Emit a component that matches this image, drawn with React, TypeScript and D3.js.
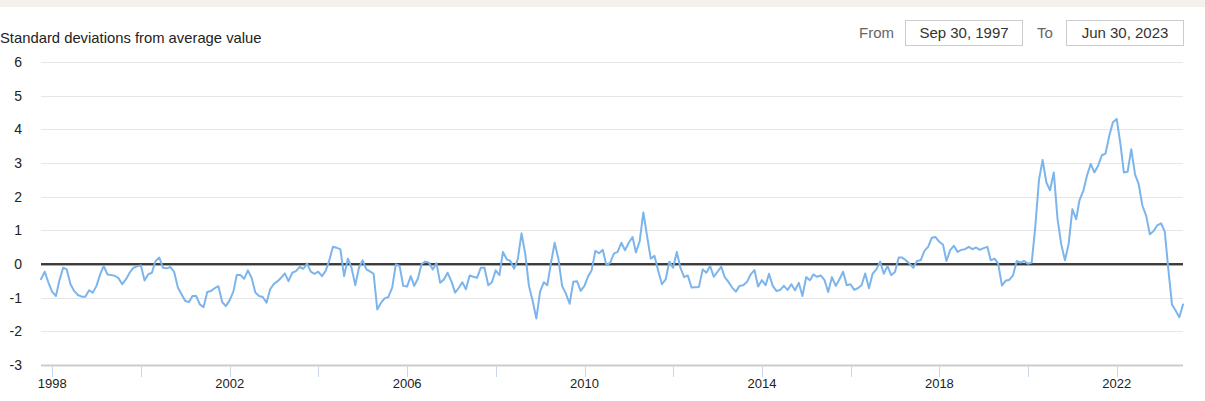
import React, { useEffect, useRef } from "react";
import * as d3 from "d3";

// monthly readings, first value is Sep 1997
const startYear = 1997;
const startMonth = 8;

const values = [
  // 1997 (Sep-Dec)
  -0.45, -0.23, -0.55, -0.83,
  // 1998
  -0.95, -0.5, -0.11, -0.16, -0.6, -0.8, -0.92, -0.97, -0.97, -0.78, -0.85, -0.65,
  // 1999
  -0.3, -0.06, -0.31, -0.33, -0.35, -0.42, -0.6, -0.45, -0.26, -0.11, -0.07, -0.04,
  // 2000
  -0.49, -0.31, -0.26, 0.09, 0.19, -0.11, -0.13, -0.09, -0.23, -0.7, -0.9, -1.1,
  // 2001
  -1.13, -0.95, -0.95, -1.2, -1.28, -0.83, -0.8, -0.72, -0.66, -1.13, -1.25, -1.08,
  // 2002
  -0.82, -0.33, -0.33, -0.44, -0.19, -0.41, -0.85, -0.95, -0.98, -1.15, -0.75, -0.59,
  // 2003
  -0.51, -0.41, -0.28, -0.51, -0.26, -0.21, -0.09, -0.14, 0.01, -0.23, -0.29, -0.23,
  // 2004
  -0.36, -0.21, 0.11, 0.51, 0.48, 0.44, -0.36, 0.16, -0.11, -0.63, -0.11, 0.11,
  // 2005
  -0.16, -0.22, -0.29, -1.35, -1.15, -1.02, -0.98, -0.7, -0.01, -0.06, -0.65, -0.67,
  // 2006
  -0.36, -0.65, -0.43, 0.0, 0.07, 0.04, -0.16, 0.02, -0.56, -0.46, -0.26, -0.51,
  // 2007
  -0.85, -0.72, -0.54, -0.75, -0.34, -0.38, -0.41, -0.11, -0.11, -0.63, -0.54, -0.19,
  // 2008
  -0.33, 0.36, 0.14, 0.09, -0.14, 0.14, 0.91, 0.29, -0.65, -1.1, -1.62, -0.82,
  // 2009
  -0.54, -0.63, 0.04, 0.63, 0.14, -0.65, -0.88, -1.18, -0.53, -0.51, -0.8, -0.65,
  // 2010
  -0.36, -0.19, 0.39, 0.32, 0.42, -0.04, 0.04, 0.31, 0.36, 0.63, 0.41, 0.63,
  // 2011
  0.8, 0.34, 0.68, 1.53, 0.83, 0.16, 0.24, -0.21, -0.6, -0.46, 0.07, -0.11,
  // 2012
  0.36, -0.11, -0.39, -0.34, -0.7, -0.69, -0.68, -0.16, -0.26, -0.06, -0.38, -0.23,
  // 2013
  -0.08, -0.39, -0.53, -0.7, -0.82, -0.65, -0.63, -0.53, -0.31, -0.18, -0.67, -0.48,
  // 2014
  -0.63, -0.29, -0.65, -0.8, -0.77, -0.65, -0.77, -0.6, -0.78, -0.56, -0.95, -0.39,
  // 2015
  -0.48, -0.31, -0.38, -0.34, -0.48, -0.83, -0.39, -0.65, -0.46, -0.23, -0.63, -0.6,
  // 2016
  -0.77, -0.72, -0.63, -0.28, -0.72, -0.29, -0.16, 0.07, -0.29, -0.06, -0.33, -0.24,
  // 2017
  0.19, 0.19, 0.11, 0.01, -0.11, 0.09, 0.11, 0.39, 0.51, 0.78, 0.8, 0.66,
  // 2018
  0.57, 0.09, 0.41, 0.54, 0.36, 0.42, 0.44, 0.51, 0.44, 0.49, 0.42, 0.47,
  // 2019
  0.51, 0.11, 0.16, 0.01, -0.64, -0.5, -0.47, -0.33, 0.09, 0.04, 0.09, 0.01,
  // 2020
  0.04, 1.08, 2.5, 3.09, 2.42, 2.19, 2.72, 1.33, 0.59, 0.11, 0.59, 1.63,
  // 2021
  1.33, 1.9, 2.17, 2.62, 2.97, 2.72, 2.92, 3.23, 3.28, 3.81, 4.21, 4.31,
  // 2022
  3.56, 2.72, 2.74, 3.41, 2.66, 2.37, 1.73, 1.43, 0.88, 0.98, 1.15, 1.21,
  // 2023 (Jan-Jun)
  0.96, -0.11, -1.2, -1.38, -1.58, -1.2,
];

const yTicks = [6, 5, 4, 3, 2, 1, 0, -1, -2, -3];
const tickYears = [1998, 2000, 2002, 2004, 2006, 2008, 2010, 2012, 2014, 2016, 2018, 2020, 2022];
const labelYears = [1998, 2002, 2006, 2010, 2014, 2018, 2022];

const title = "Standard deviations from average value";
const fromText = "Sep 30, 1997";
const toText = "Jun 30, 2023";

const FONT = "'Liberation Sans', Arial, sans-serif";

export default function App() {
  const svgRef = useRef<SVGSVGElement>(null);

  useEffect(() => {
    if (!svgRef.current) return;
    const svg = d3.select(svgRef.current);
    svg.selectAll("*").remove();

    const width = 1205;
    const height = 401;
    const left = 41;
    const right = 1183;
    const top = 62;
    const bottom = 365;

    // end-of-month dates
    const data = values.map((v, i) => ({
      date: new Date(startYear, startMonth + i + 1, 0),
      value: v,
    }));

    const x = d3
      .scaleTime()
      .domain([data[0].date, data[data.length - 1].date])
      .range([left, right]);

    const y = d3.scaleLinear().domain([-3, 6]).range([bottom, top]);

    svg.append("rect").attr("width", width).attr("height", height).attr("fill", "#fff");
    // top strip
    svg.append("rect").attr("width", width).attr("height", 7).attr("fill", "#f4f1ec");

    svg
      .append("text")
      .attr("x", 0)
      .attr("y", 43)
      .attr("font-family", FONT)
      .attr("font-size", 14.8)
      .attr("fill", "#222")
      .text(title);

    // date range inputs
    const box = (bx: number, label: string) => {
      svg
        .append("rect")
        .attr("x", bx + 0.5)
        .attr("y", 20.5)
        .attr("width", 117)
        .attr("height", 25)
        .attr("fill", "#fff")
        .attr("stroke", "#cccccc");
      svg
        .append("text")
        .attr("x", bx + 59)
        .attr("y", 38)
        .attr("text-anchor", "middle")
        .attr("font-family", FONT)
        .attr("font-size", 15)
        .attr("fill", "#333")
        .text(label);
    };
    svg
      .append("text")
      .attr("x", 859)
      .attr("y", 38)
      .attr("font-family", FONT)
      .attr("font-size", 15)
      .attr("fill", "#666")
      .text("From");
    box(905, fromText);
    svg
      .append("text")
      .attr("x", 1037)
      .attr("y", 38)
      .attr("font-family", FONT)
      .attr("font-size", 15)
      .attr("fill", "#666")
      .text("To");
    box(1066, toText);

    // grid
    svg
      .append("g")
      .selectAll("line")
      .data(yTicks.filter((t) => t !== -3))
      .join("line")
      .attr("x1", left)
      .attr("x2", right)
      .attr("y1", (d) => Math.round(y(d)) + 0.5)
      .attr("y2", (d) => Math.round(y(d)) + 0.5)
      .attr("stroke", "#e6e6e6");

    svg
      .append("g")
      .selectAll("text")
      .data(yTicks)
      .join("text")
      .attr("x", 22)
      .attr("y", (d) => y(d) + 5)
      .attr("text-anchor", "end")
      .attr("font-family", FONT)
      .attr("font-size", 14)
      .attr("fill", "#222")
      .text((d) => String(d));

    // zero line
    const y0 = Math.round(y(0));
    svg
      .append("line")
      .attr("x1", left)
      .attr("x2", right)
      .attr("y1", y0 + 1.5)
      .attr("y2", y0 + 1.5)
      .attr("stroke", "#aaaaaa")
      .attr("stroke-width", 1.2);
    svg
      .append("line")
      .attr("x1", left)
      .attr("x2", right)
      .attr("y1", y0)
      .attr("y2", y0)
      .attr("stroke", "#000")
      .attr("stroke-width", 1.3);

    // x axis
    svg
      .append("line")
      .attr("x1", left)
      .attr("x2", right)
      .attr("y1", bottom + 0.5)
      .attr("y2", bottom + 0.5)
      .attr("stroke", "#cccccc")
      .attr("stroke-width", 2);

    svg
      .append("g")
      .selectAll("line")
      .data(tickYears)
      .join("line")
      .attr("x1", (d) => Math.round(x(new Date(d, 0, 1))) + 0.5)
      .attr("x2", (d) => Math.round(x(new Date(d, 0, 1))) + 0.5)
      .attr("y1", bottom + 1.5)
      .attr("y2", bottom + 12)
      .attr("stroke", "#ccd6eb");

    svg
      .append("g")
      .selectAll("text")
      .data(labelYears)
      .join("text")
      .attr("x", (d) => x(new Date(d, 0, 1)))
      .attr("y", 388)
      .attr("text-anchor", "middle")
      .attr("font-family", FONT)
      .attr("font-size", 13)
      .attr("fill", "#222")
      .text((d) => String(d));

    // series
    const line = d3
      .line<{ date: Date; value: number }>()
      .x((d) => x(d.date))
      .y((d) => y(d.value));

    svg
      .append("path")
      .datum(data)
      .attr("d", line)
      .attr("fill", "none")
      .attr("stroke", "#7cb5ec")
      .attr("stroke-width", 2)
      .attr("stroke-linejoin", "round")
      .attr("stroke-linecap", "round");
  }, []);

  return (
    <svg
      ref={svgRef}
      width={1205}
      height={401}
      style={{ position: "absolute", left: 0, top: 0, display: "block" }}
    />
  );
}
